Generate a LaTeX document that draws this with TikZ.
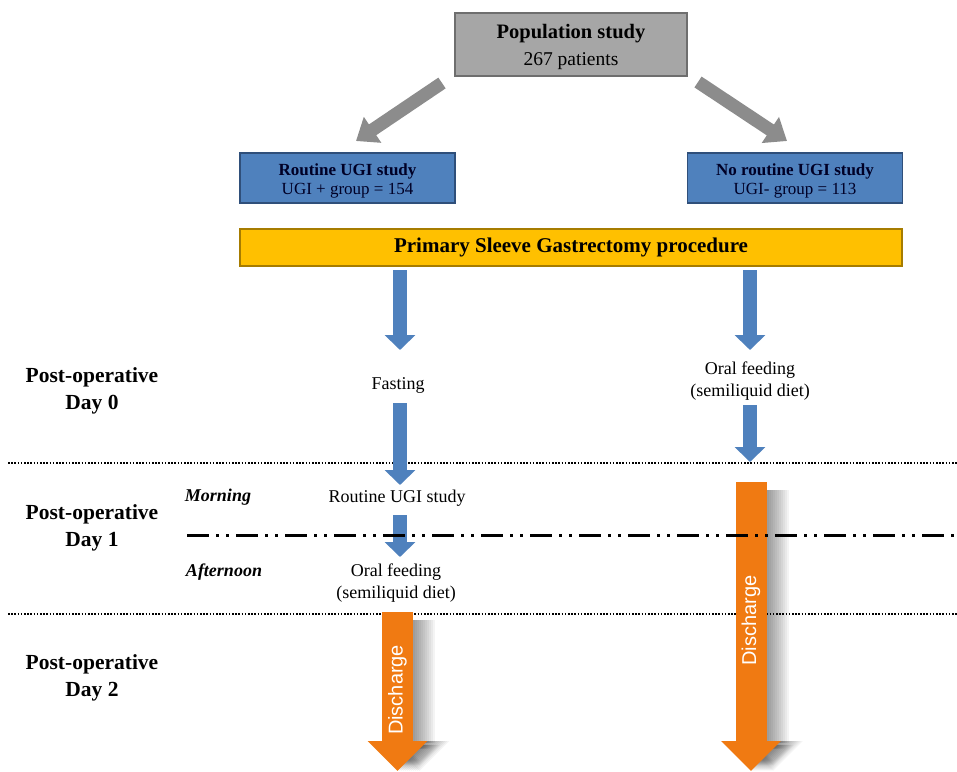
\documentclass[tikz,border=0pt]{standalone}
\usepackage{fontspec}
\setmainfont{Liberation Serif}
\newfontfamily\dischfont{Liberation Sans}
\usetikzlibrary{arrows.meta,calc}
\definecolor{boxblue}{HTML}{4F81BD}
\definecolor{boxblueD}{HTML}{2F4F7A}
\definecolor{popgray}{HTML}{A6A6A6}
\definecolor{popgrayD}{HTML}{6E6E6E}
\definecolor{procgold}{HTML}{FFC000}
\definecolor{procgoldD}{HTML}{A67C00}
\definecolor{arrblue}{HTML}{4F81BD}
\definecolor{orangeA}{HTML}{F07A12}
\definecolor{grayarr}{HTML}{8C8C8C}
\begin{document}
\begin{tikzpicture}[x=1pt,y=-1pt,
  popbox/.style={fill=popgray, draw=popgrayD, line width=1.5pt, minimum width=232pt, minimum height=63pt, inner sep=0pt},
  grpbox/.style={fill=boxblue, draw=boxblueD, line width=1.5pt, minimum width=215pt, minimum height=50pt, inner sep=0pt},
  procbox/.style={fill=procgold, draw=procgoldD, line width=1.5pt, minimum width=662pt, minimum height=37pt, inner sep=0pt},
  boxtext/.style={align=center, inner sep=0pt},
  grptext/.style={align=center, inner sep=0pt, text=black!85!blue},
  plain/.style={align=center, inner sep=0pt, font=\fontsize{18}{22}\selectfont},
  daylbl/.style={align=center, inner sep=0pt, font=\fontsize{21.5}{27}\selectfont\bfseries},
  timelbl/.style={inner sep=0pt, font=\fontsize{18}{22}\selectfont\bfseries\itshape},
  bluearr/.style={draw=arrblue, line width=14pt, -{Triangle[width=30pt,length=15pt]}},
  grayconn/.style={draw=grayarr, line width=13pt, -{Triangle[width=30pt,length=20pt]}},
  orarrow/.style={draw=orangeA, line width=31pt, -{Triangle[width=58pt,length=30pt]}},
  orshadow/.style={draw=black, opacity=0.045, line width=31pt, -{Triangle[width=58pt,length=30pt]}},
  dischtext/.style={text=white, inner sep=0pt, font=\dischfont\fontsize{20}{22}\selectfont},
  dotline/.style={draw=black, line width=2pt, dash pattern=on 1.6pt off 1.6pt},
  dashdotline/.style={draw=black, line width=3pt, dash pattern=on 22pt off 7pt on 3pt off 7pt on 3pt off 7pt}
]
\useasboundingbox (0,0) rectangle (957,771);

% boxes
\node[popbox] (pop) at (571,44.5) {};
\node[boxtext] (popt) at (571,47) {\fontsize{20.5}{22}\selectfont\bfseries Population study\\[8pt]\fontsize{19.5}{22}\selectfont 267 patients};
\node[grpbox] (ugi) at (347.5,178) {};
\node[grptext] (ugit) at (347.5,180.5) {\fontsize{17}{19}\selectfont\bfseries Routine UGI study\\[3pt]\fontsize{17}{19}\selectfont UGI + group = 154};
\node[grpbox] (nougi) at (795,178) {};
\node[grptext] (nougit) at (795,180.5) {\fontsize{17}{19}\selectfont\bfseries No routine UGI study\\[3pt]\fontsize{17}{19}\selectfont UGI- group = 113};
\node[procbox] (proc) at (571,247.5) {\fontsize{21}{24}\selectfont\bfseries Primary Sleeve Gastrectomy procedure};

% text nodes
\node[plain] (fast) at (398,385) {Fasting};
\node[plain] (oralR) at (750,381) {Oral feeding\\(semiliquid diet)};
\node[plain] (rugi) at (397,498) {Routine UGI study};
\node[plain] (oralL) at (396,583) {Oral feeding\\(semiliquid diet)};
\node[timelbl] (morning) at (218,497) {Morning};
\node[timelbl] (afternoon) at (224,572) {Afternoon};
\node[daylbl] (day0) at (92,391) {Post-operative\\Day 0};
\node[daylbl] (day1) at (92,528) {Post-operative\\Day 1};
\node[daylbl] (day2) at (92,678) {Post-operative\\Day 2};

% coordinates for connector ends
\coordinate (g1s) at (442,83);  \coordinate (g1e) at (356,141);
\coordinate (g2s) at (698,82);  \coordinate (g2e) at (787,141);
\coordinate (b1s) at (400,270); \coordinate (b1e) at (400,350);
\coordinate (b2s) at (400,403); \coordinate (b2e) at (400,485);
\coordinate (b3s) at (400,515); \coordinate (b3e) at (400,557);
\coordinate (b4s) at (750,270); \coordinate (b4e) at (750,350);
\coordinate (b5s) at (750,405); \coordinate (b5e) at (750,462);
\coordinate (o1s) at (397.5,612); \coordinate (o1e) at (397.5,771);
\coordinate (o2s) at (751,482);   \coordinate (o2e) at (751,771);
\coordinate (l0a) at (8,463);   \coordinate (l0b) at (957,463);
\coordinate (l1a) at (8,614);   \coordinate (l1b) at (957,614);
\coordinate (lma) at (187,535); \coordinate (lmb) at (957,535);

% dotted day separators
\draw[dotline] (l0a) -- (l0b);
\draw[dotline] (l1a) -- (l1b);

% gray arrows from population box
\draw[grayconn] (g1s) -- (g1e);
\draw[grayconn] (g2s) -- (g2e);

% blue arrows
\draw[bluearr] (b1s) -- (b1e);
\draw[bluearr] (b2s) -- (b2e);
\draw[bluearr] (b4s) -- (b4e);
\draw[bluearr] (b5s) -- (b5e);

% orange shadows (soft, offset to the right)
\foreach \s in {2,4,...,22}{
  \draw[orshadow] ([xshift=\s pt, yshift=-8pt]o1s) -- ([xshift=\s pt]o1e);
  \draw[orshadow] ([xshift=\s pt, yshift=-8pt]o2s) -- ([xshift=\s pt]o2e);
}
% orange discharge arrows
\draw[orarrow] (o1s) -- node[pos=0.49, rotate=90, dischtext] (dis1) {Discharge} (o1e);
\draw[orarrow] (o2s) -- node[pos=0.48, rotate=90, dischtext] (dis2) {Discharge} (o2e);

% morning/afternoon separator
\draw[bluearr] (b3s) -- (b3e);
\draw[dashdotline] (lma) -- (lmb);
\end{tikzpicture}
\end{document}
